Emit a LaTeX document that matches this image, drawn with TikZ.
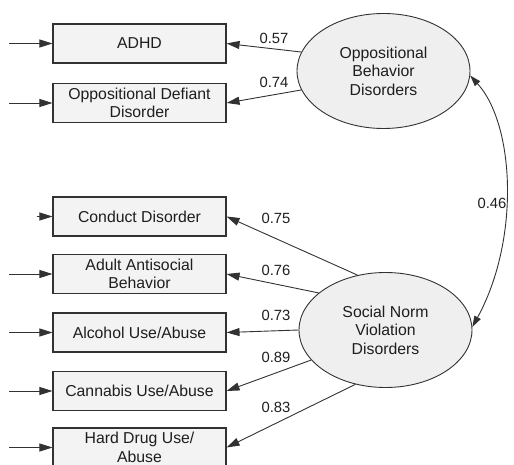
\documentclass[tikz,border=0pt]{standalone}
\usepackage{fontspec}
\setmainfont{Liberation Sans}
\usetikzlibrary{shapes.geometric, arrows.meta}
\definecolor{boxfill}{RGB}{243,243,243}
\definecolor{latfill}{RGB}{239,239,239}
\definecolor{edgegrey}{RGB}{50,50,50}
\definecolor{textgrey}{RGB}{30,30,30}

\begin{document}
\begin{tikzpicture}[x=1pt, y=-1pt,
    obsbox/.style={draw=edgegrey, line width=1.1pt, fill=boxfill, minimum width=173pt,
                   minimum height=39pt, inner sep=0pt, align=center, text=textgrey,
                   font=\fontsize{15.8}{18.5}\selectfont},
    latent/.style={ellipse, draw=edgegrey, line width=0.9pt, fill=latfill, minimum width=173pt,
                   minimum height=115pt, inner sep=0pt, align=center, text=textgrey,
                   font=\fontsize{15.8}{18.5}\selectfont},
    arr/.style={draw=edgegrey, line width=0.9pt, -{Triangle[length=13pt,width=8pt]}},
    dblarr/.style={draw=edgegrey, line width=0.9pt,
                   {Triangle[length=11pt,width=7pt]}-{Triangle[length=11pt,width=7pt]}},
    coef/.style={text=textgrey, inner sep=0pt, font=\fontsize{14.8}{17}\selectfont}]
  \useasboundingbox (0,0) rectangle (514,465);

  % observed indicators
  \node[obsbox] (adhd) at (139.5,43.5)  {ADHD};
  \node[obsbox] (odd)  at (139.5,103)   {Oppositional Defiant\\Disorder};
  \node[obsbox] (cd)   at (139.5,216.5) {Conduct Disorder};
  \node[obsbox] (aab)  at (139.5,274)   {Adult Antisocial\\Behavior};
  \node[obsbox] (alc)  at (139.5,332.5) {Alcohol Use/Abuse};
  \node[obsbox] (can)  at (139.5,391)   {Cannabis Use/Abuse};
  \node[obsbox] (hdu)  at (139.5,447.5) {Hard Drug Use/\\Abuse};

  % latent factors
  \node[latent] (obd) at (383.5,71) {Oppositional\\Behavior\\Disorders};
  \node[latent] (snv) at (385.5,330) {Social Norm\\Violation\\Disorders};

  % residual arrows
  \foreach \n/\d in {adhd/43, odd/43, cd/15, aab/43, alc/43, can/43, hdu/43} {
    \path (\n.west) ++(-\d,0) coordinate (\n-in);
    \draw[arr] (\n-in) -- (\n.west);
  }

  % loadings
  \draw[arr] (obd.167) -- (adhd.east);
  \draw[arr] (obd.193) -- (odd.east);
  \draw[arr] (snv.117) -- (cd.east);
  \draw[arr] (snv.151) -- (aab.east);
  \draw[arr] (snv.180) -- (alc.east);
  \draw[arr] (snv.202) -- (can.east);
  \draw[arr] (snv.241) -- (hdu.east);

  \node[coef] (l57) at (274,38)    {0.57};
  \node[coef] (l74) at (274,82.5)  {0.74};
  \node[coef] (l75) at (276,218.5) {0.75};
  \node[coef] (l76) at (276,270.5) {0.76};
  \node[coef] (l73) at (276,315.5) {0.73};
  \node[coef] (l89) at (276,357.5) {0.89};
  \node[coef] (l83) at (276,407.5) {0.83};

  % factor correlation
  \draw[dblarr] (obd.357) .. controls (515,125) and (520,240) .. (snv.2);
  \node[coef] (l46) at (492,203) {0.46};
\end{tikzpicture}
\end{document}
